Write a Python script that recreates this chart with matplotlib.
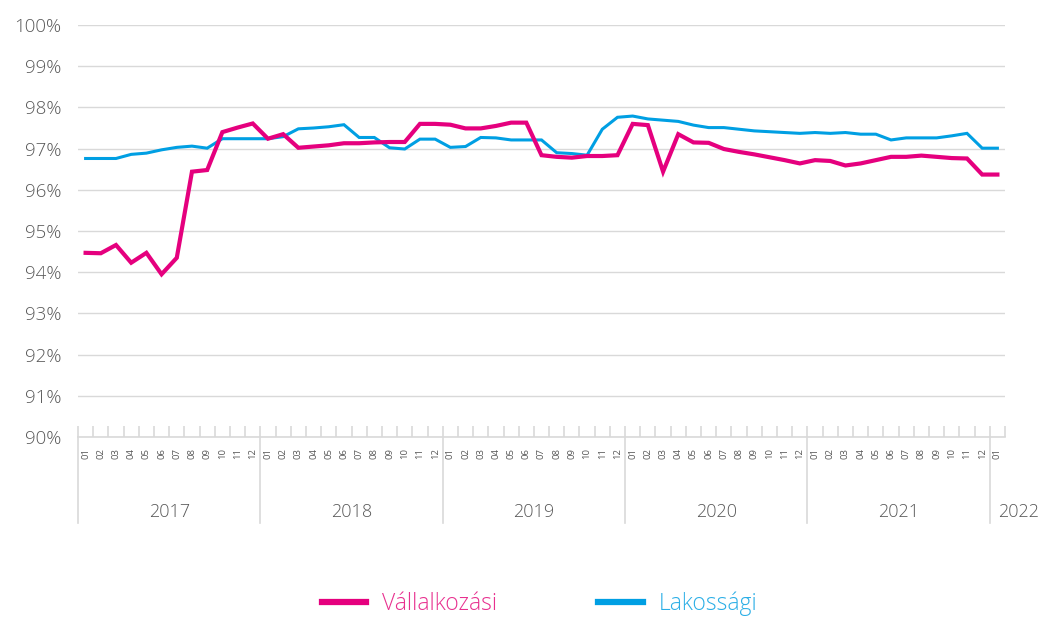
import matplotlib.pyplot as plt
from matplotlib.lines import Line2D
import matplotlib.transforms as mtransforms
import numpy as np

plt.rcParams['font.family'] = ['Open Sans', 'DejaVu Sans']
plt.rcParams['font.weight'] = 'light'

# havi adatok 2017-01 .. 2022-01
years = ['2017', '2018', '2019', '2020', '2021', '2022']
months = ['01', '02', '03', '04', '05', '06', '07', '08', '09', '10', '11', '12'] * 5 + ['01']

vallalkozasi = [
    94.47, 94.46, 94.66, 94.23, 94.47, 93.95, 94.35, 96.44, 96.48, 97.40, 97.51, 97.61,
    97.24, 97.35, 97.02, 97.05, 97.08, 97.13, 97.13, 97.15, 97.16, 97.16, 97.60, 97.60,
    97.58, 97.49, 97.49, 97.55, 97.63, 97.63, 96.84, 96.80, 96.78, 96.82, 96.82, 96.84,
    97.60, 97.57, 96.44, 97.35, 97.15, 97.14, 96.99, 96.92, 96.86, 96.79, 96.72, 96.64,
    96.72, 96.70, 96.59, 96.64, 96.72, 96.80, 96.80, 96.83, 96.80, 96.77, 96.76, 96.37,
    96.37,
]
lakossagi = [
    96.76, 96.76, 96.76, 96.86, 96.89, 96.97, 97.03, 97.06, 97.01, 97.24, 97.24, 97.24,
    97.24, 97.29, 97.48, 97.50, 97.53, 97.58, 97.27, 97.27, 97.02, 96.99, 97.23, 97.23,
    97.03, 97.05, 97.27, 97.26, 97.21, 97.21, 97.21, 96.90, 96.88, 96.84, 97.47, 97.76,
    97.79, 97.72, 97.69, 97.66, 97.57, 97.51, 97.51, 97.47, 97.43, 97.41, 97.39, 97.37,
    97.39, 97.37, 97.39, 97.35, 97.35, 97.21, 97.26, 97.26, 97.26, 97.31, 97.37, 97.01,
    97.01,
]

pink = '#E5007E'
blue = '#009FE3'
grey = '#595959'
grid = '#D9D9D9'

x = np.arange(len(months))

fig = plt.figure(figsize=(10.46, 6.17), dpi=100)
ax = fig.add_axes([78 / 1046, 1 - 437 / 617, (1005 - 78) / 1046, 412 / 617])

ax.plot(x, lakossagi, color=blue, lw=2.2, solid_joinstyle='miter')
ax.plot(x, vallalkozasi, color=pink, lw=3.0, solid_joinstyle='miter')

ax.set_xlim(-0.5, len(months) - 0.5)
ax.set_ylim(90, 100)
ax.set_yticks(np.arange(90, 101, 1))
ax.set_yticklabels([f'{v}%' for v in range(90, 101)])
ax.grid(axis='y', color=grid, lw=1)
ax.set_axisbelow(True)

for s in ['top', 'right', 'left']:
    ax.spines[s].set_visible(False)
ax.spines['bottom'].set_color(grid)
ax.spines['bottom'].set_linewidth(1.2)

ax.tick_params(axis='y', length=0, pad=12, labelsize=13.5, labelcolor=grey)
ax.set_xticks(x)
ax.set_xticklabels(months, rotation=90, fontsize=6.8, color=grey, fontweight='normal')
ax.tick_params(axis='x', which='major', length=0, pad=8)
ax.set_xticks(np.arange(-0.5, len(months)), minor=True)
ax.tick_params(axis='x', which='minor', length=8, direction='in', color=grid, width=1.2)

# évek elválasztói és feliratai
trans = mtransforms.blended_transform_factory(ax.transData, ax.transAxes)
for k, yr in enumerate(years):
    start = k * 12 - 0.5
    ax.plot([start, start], [0, -0.209], transform=trans, color=grid, lw=1.2, clip_on=False)
    if k < 5:
        ax.text(start + 6, -0.182, yr, transform=trans, ha='center', va='center',
                fontsize=13, color=grey)
    else:
        ax.text(start + 0.55, -0.182, yr, transform=trans, ha='left', va='center',
                fontsize=13, color=grey)

handles = [Line2D([], [], color=pink, lw=4.5), Line2D([], [], color=blue, lw=4.5)]
fig.legend(handles, ['Vállalkozási', 'Lakossági'], loc='center', ncol=2,
           bbox_to_anchor=(0.516, 0.022), frameon=False, fontsize=16.5,
           labelcolor=['#E8308F', '#2AAEE6'], handlelength=1.95, handletextpad=0.7,
           columnspacing=4.4)

fig.savefig('out.png', dpi=100)
